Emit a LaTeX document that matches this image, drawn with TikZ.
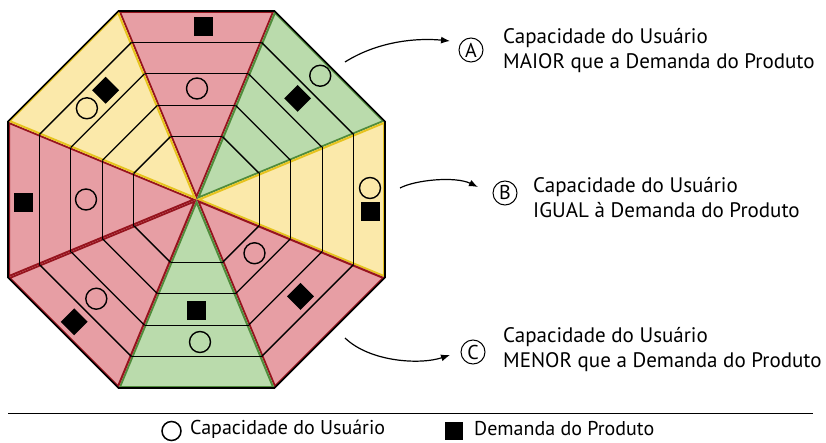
\documentclass[tikz,border=0pt]{standalone}
\usepackage{fontspec}
\setmainfont{PT Sans}
\usetikzlibrary{arrows.meta}
\definecolor{redfill}{RGB}{231,158,164}
\definecolor{redline}{RGB}{150,20,30}
\definecolor{greenfill}{RGB}{186,219,172}
\definecolor{greenline}{RGB}{80,140,60}
\definecolor{yellowfill}{RGB}{251,233,170}
\definecolor{yellowline}{RGB}{230,195,30}
\begin{document}
\begin{tikzpicture}[x=1pt,y=1pt,
  band/.style={black,line width=1.3pt},
  capmark/.style={circle,draw=black,line width=1.4pt,minimum size=21pt,inner sep=0pt},
  demmark/.style={fill=black,minimum size=19pt,inner sep=0pt,transform shape},
  lettercirc/.style={circle,draw=black,line width=1pt,minimum size=24pt,inner sep=0pt,font=\fontsize{20}{20}\selectfont},
  desc/.style={anchor=west,align=left,inner sep=0pt,font=\fontsize{21}{25}\selectfont},
  legtext/.style={anchor=west,inner sep=0pt,font=\fontsize{20}{20}\selectfont},
  arr/.style={line width=1.2pt,-{Latex[length=9pt,width=7pt]}}]
\useasboundingbox (0,0) rectangle (826,442);
% sectors
\foreach \ang/\fc/\lc in {90/redfill/redline, 45/greenfill/greenline, 0/yellowfill/yellowline, -45/redfill/redline, -90/greenfill/greenline, -135/redfill/redline, 180/redfill/redline, 135/yellowfill/yellowline}{
  \begin{scope}[shift={(196.5,242.5)}, rotate=\ang-90]
    \fill[\fc] (0,0) -- (-78.08,188.5) -- (78.08,188.5) -- cycle;
    \begin{scope}
      \clip (0,0) -- (-78.08,188.5) -- (78.08,188.5) -- cycle;
      \draw[\lc, line width=4pt, line join=round] (0,0) -- (-78.08,188.5) -- (78.08,188.5) -- cycle;
    \end{scope}
    \foreach \d in {62.83,94.25,125.67,157.08}
      \draw[band] (-0.41421*\d,\d) -- (0.41421*\d,\d);
  \end{scope}
}
% outer octagon
\draw[black,line width=1.6pt,line join=miter] (196.5,242.5) ++(67.5:204.03) -- ++(-180:156.16) -- ++(-135:156.16) -- ++(-90:156.16) -- ++(-45:156.16) -- ++(0:156.16) -- ++(45:156.16) -- ++(90:156.16) -- cycle;
% markers
\begin{scope}[shift={(196.5,242.5)},rotate=0]
  \node[demmark] (nsq) at (6.5,172.5) {}; \node[capmark] (nci) at (0.5,111) {};
\end{scope}
\begin{scope}[shift={(196.5,242.5)},rotate=-45]
  \node[capmark] (neci) at (0,175) {}; \node[demmark] (nesq) at (0,143) {};
\end{scope}
\begin{scope}[shift={(196.5,242.5)},rotate=45]
  \node[demmark] (nwsq) at (13,141.5) {}; \node[capmark] (nwci) at (-13,142) {};
\end{scope}
\begin{scope}[shift={(196.5,242.5)},rotate=-90]
  \node[capmark] (eci) at (-11.5,173.5) {}; \node[demmark] (esq) at (12.5,173.5) {};
\end{scope}
\begin{scope}[shift={(196.5,242.5)},rotate=-135]
  \node[capmark] (seci) at (-3,79) {}; \node[demmark] (sesq) at (-5,142) {};
\end{scope}
\begin{scope}[shift={(196.5,242.5)},rotate=-180]
  \node[demmark] (ssq) at (0,110.5) {}; \node[capmark] (sci) at (-3.5,142.5) {};
\end{scope}
\begin{scope}[shift={(196.5,242.5)},rotate=135]
  \node[capmark] (swci) at (0.7,141) {}; \node[demmark] (swsq) at (0,173) {};
\end{scope}
\begin{scope}[shift={(196.5,242.5)},rotate=90]
  \node[demmark] (wsq) at (-3.5,173.5) {}; \node[capmark] (wci) at (0,110.5) {};
\end{scope}
% descriptions
\node[lettercirc] (la) at (471,392) {A};
\node[desc] (ta) at (503,391.5) {Capacidade do Usuário\\MAIOR que a Demanda do Produto};
\node[lettercirc] (lb) at (505,249) {B};
\node[desc] (tb) at (533,244.5) {Capacidade do Usuário\\IGUAL à Demanda do Produto};
\node[lettercirc] (lc) at (473,90) {C};
\node[desc] (tc) at (503,92.5) {Capacidade do Usuário\\MENOR que a Demanda do Produto};
% arrows
\coordinate (sa) at (345,380); \coordinate (ea) at (450,401);
\draw[arr] (sa) .. controls (380,402) and (420,404) .. (ea);
\coordinate (sb) at (400,254); \coordinate (eb) at (478,255);
\draw[arr] (sb) .. controls (415,262) and (455,266) .. (eb);
\coordinate (sc) at (345,104); \coordinate (ec) at (450,87);
\draw[arr] (sc) .. controls (370,80) and (420,77) .. (ec);
% legend
\coordinate (l1) at (8,29); \coordinate (l2) at (813,29);
\draw[line width=1pt] (l1) -- (l2);
\node[circle,draw=black,line width=1.5pt,minimum size=19pt,inner sep=0pt] (lgc) at (171.5,11) {};
\node[legtext] (lgct) at (190,13) {Capacidade do Usuário};
\node[fill=black,minimum size=18pt,inner sep=0pt] (lgs) at (454,11) {};
\node[legtext] (lgst) at (474,13) {Demanda do Produto};
\end{tikzpicture}
\end{document}
